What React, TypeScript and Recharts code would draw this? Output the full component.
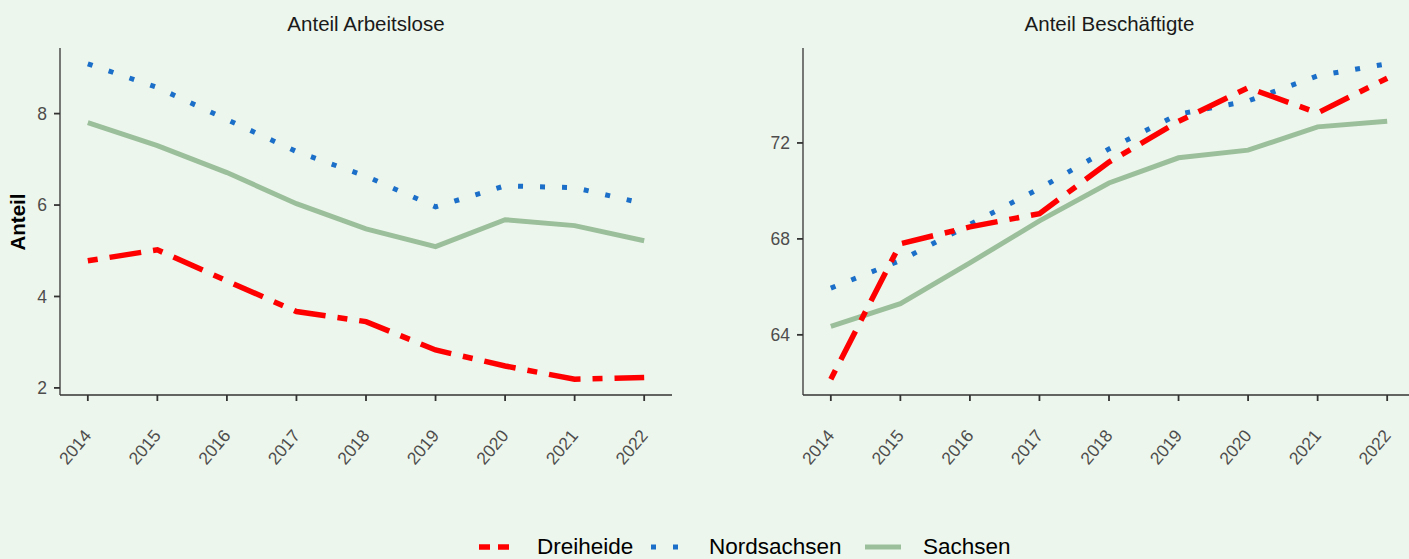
import React from 'react';
import { LineChart, Line, XAxis, YAxis } from 'recharts';

// years on the x axis
const years = [2014, 2015, 2016, 2017, 2018, 2019, 2020, 2021, 2022];

// Anteil Arbeitslose (%)
const alDreiheide = [4.78, 5.02, 4.34, 3.67, 3.45, 2.83, 2.48, 2.19, 2.23];
const alNordsachsen = [9.09, 8.57, 7.87, 7.17, 6.63, 5.96, 6.42, 6.38, 6.03];
const alSachsen = [7.8, 7.3, 6.71, 6.03, 5.48, 5.09, 5.68, 5.55, 5.22];

// Anteil Beschäftigte (%)
const bDreiheide = [62.15, 67.8, 68.5, 69.05, 71.2, 72.9, 74.3, 73.25, 74.7];
const bNordsachsen = [65.95, 67.1, 68.6, 70.1, 71.75, 73.2, 73.75, 74.8, 75.3];
const bSachsen = [64.35, 65.3, 67.0, 68.75, 70.33, 71.38, 71.7, 72.67, 72.9];

const alTicks = [2, 4, 6, 8];
const bTicks = [64, 68, 72];

const FONT = '"Liberation Sans", Arial, Helvetica, sans-serif';
const BG = '#EDF6EC';
const AXIS = '#333333';
const TICK_TEXT = '#4D4D4D';

const COLORS = {
  dreiheide: '#FF0000',
  nordsachsen: '#1B6FC8',
  sachsen: '#9BBF9B',
};

const toRows = (d: number[], n: number[], s: number[]) =>
  years.map((year, i) => ({ year, dreiheide: d[i], nordsachsen: n[i], sachsen: s[i] }));

// ggplot style 5% expansion
const expand = (arrs: number[][]): [number, number] => {
  const all = arrs.flat();
  const lo = Math.min(...all);
  const hi = Math.max(...all);
  const pad = (hi - lo) * 0.05;
  return [lo - pad, hi + pad];
};

const xPad = (years[years.length - 1] - years[0]) * 0.05;
const xDomain: [number, number] = [years[0] - xPad, years[years.length - 1] + xPad];

const YearTick = (props: any) => {
  const { x, y, payload } = props;
  const ax = x + 4.5;
  const ay = y + 35;
  return (
    <text
      x={ax}
      y={ay}
      transform={`rotate(-50, ${ax}, ${ay})`}
      textAnchor="end"
      fill={TICK_TEXT}
      fontSize={17.5}
      fontFamily={FONT}
    >
      {payload.value}
    </text>
  );
};

interface PanelProps {
  rows: any[];
  domain: [number, number];
  ticks: number[];
  left: number;
}

const Panel: React.FC<PanelProps> = ({ rows, domain, ticks, left }) => (
  <div style={{ position: 'absolute', left, top: 0 }}>
    <LineChart width={700} height={480} data={rows} margin={{ top: 48, right: 28, bottom: 0, left: 0 }}>
      <XAxis
        dataKey="year"
        type="number"
        domain={xDomain}
        ticks={years}
        height={85}
        axisLine={{ stroke: AXIS, strokeWidth: 1.3 }}
        tickLine={{ stroke: AXIS, strokeWidth: 1.8 }}
        tickSize={6}
        tickMargin={0}
        tick={<YearTick />}
        interval={0}
      />
      <YAxis
        type="number"
        domain={domain}
        ticks={ticks}
        width={60}
        allowDataOverflow
        axisLine={{ stroke: AXIS, strokeWidth: 1.3 }}
        tickLine={{ stroke: AXIS, strokeWidth: 1.8 }}
        tickSize={6}
        tickMargin={7}
        tick={{ fill: TICK_TEXT, fontSize: 17.5, fontFamily: FONT }}
        interval={0}
      />
      <Line
        dataKey="sachsen"
        type="linear"
        stroke={COLORS.sachsen}
        strokeWidth={5}
        dot={false}
        isAnimationActive={false}
      />
      <Line
        dataKey="nordsachsen"
        type="linear"
        stroke={COLORS.nordsachsen}
        strokeWidth={5}
        strokeDasharray="5 17"
        strokeLinecap="butt"
        dot={false}
        isAnimationActive={false}
      />
      <Line
        dataKey="dreiheide"
        type="linear"
        stroke={COLORS.dreiheide}
        strokeWidth={5.5}
        strokeDasharray="10 12 32 12"
        strokeLinecap="butt"
        dot={false}
        isAnimationActive={false}
      />
    </LineChart>
  </div>
);

const legendItems = [
  { name: 'Dreiheide', color: COLORS.dreiheide, dash: '11 8', width: 5.5, left: 479 },
  { name: 'Nordsachsen', color: COLORS.nordsachsen, dash: '5 17', width: 5, left: 651 },
  { name: 'Sachsen', color: COLORS.sachsen, dash: undefined, width: 5, left: 865 },
];

export default function App() {
  const alRows = toRows(alDreiheide, alNordsachsen, alSachsen);
  const bRows = toRows(bDreiheide, bNordsachsen, bSachsen);

  return (
    <div
      style={{
        position: 'absolute',
        left: 0,
        top: 0,
        width: 1409,
        height: 559,
        overflow: 'hidden',
        background: BG,
        fontFamily: FONT,
      }}
    >
      <Panel rows={alRows} domain={expand([alDreiheide, alNordsachsen, alSachsen])} ticks={alTicks} left={0} />
      <Panel rows={bRows} domain={expand([bDreiheide, bNordsachsen, bSachsen])} ticks={bTicks} left={743} />

      {/* panel titles */}
      <div style={{ position: 'absolute', left: 60, width: 612, top: 12, textAlign: 'center', fontSize: 20.5, color: '#1A1A1A' }}>
        Anteil Arbeitslose
      </div>
      <div style={{ position: 'absolute', left: 803, width: 613, top: 12, textAlign: 'center', fontSize: 20.5, color: '#1A1A1A' }}>
        Anteil Beschäftigte
      </div>

      {/* y axis title */}
      <div
        style={{
          position: 'absolute',
          left: 18,
          top: 222,
          transform: 'translate(-50%, -50%) rotate(-90deg)',
          fontSize: 20.5,
          fontWeight: 'bold',
          color: '#000',
          whiteSpace: 'nowrap',
        }}
      >
        Anteil
      </div>

      {/* legend */}
      {legendItems.map((it) => (
        <div
          key={it.name}
          style={{ position: 'absolute', left: it.left, top: 535, height: 23, display: 'flex', alignItems: 'center' }}
        >
          <svg width={36} height={10} style={{ display: 'block' }}>
            <line x1={0} y1={5} x2={36} y2={5} stroke={it.color} strokeWidth={it.width} strokeDasharray={it.dash} />
          </svg>
          <span style={{ marginLeft: 22, fontSize: 22.5, lineHeight: '23px', color: '#000', whiteSpace: 'nowrap' }}>
            {it.name}
          </span>
        </div>
      ))}
    </div>
  );
}
